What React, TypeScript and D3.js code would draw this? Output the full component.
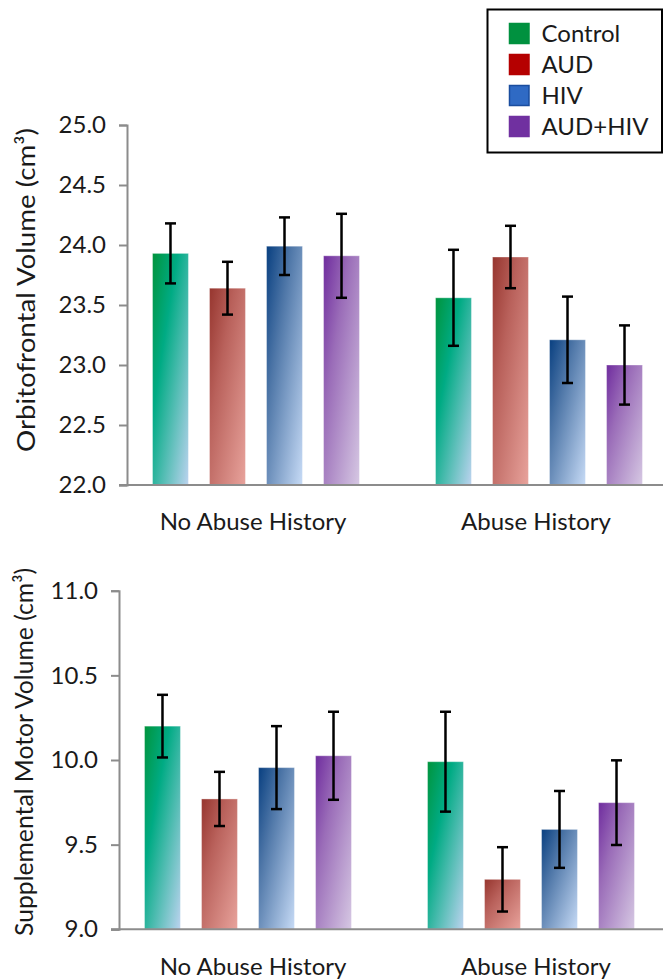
import { useEffect, useRef } from 'react';
import * as d3 from 'd3';

const groups = ['No Abuse History', 'Abuse History'];
const series = ['Control', 'AUD', 'HIV', 'AUD+HIV'];

// orbitofrontal volume, [group][series]
const ofcMeans = [
  [23.93, 23.64, 23.99, 23.91],
  [23.56, 23.9, 23.21, 23.0],
];
const ofcErrors = [
  [0.25, 0.22, 0.24, 0.35],
  [0.4, 0.26, 0.36, 0.33],
];
const ofcTicks = [22.0, 22.5, 23.0, 23.5, 24.0, 24.5, 25.0];

// supplemental motor volume, [group][series]
const smaMeans = [
  [10.2, 9.77, 9.955, 10.025],
  [9.99, 9.295, 9.59, 9.748],
];
const smaErrors = [
  [0.185, 0.16, 0.245, 0.26],
  [0.295, 0.19, 0.227, 0.25],
];
const smaTicks = [9.0, 9.5, 10.0, 10.5, 11.0];

const legendColors = ['#00913f', '#b50000', '#2f6ac4', '#7030a0'];
const legendStrokes = ['#00913f', '#b50000', '#1a4d9e', '#7030a0'];

// diagonal gradient stops per series
const gradientStops = [
  ['#00943c', '#00ab84', '#bcd3ef'],
  ['#96352e', '#b9615b', '#e8a39c'],
  ['#083f80', '#4f77a8', '#c7dbf6'],
  ['#6f2c9e', '#9a6cb8', '#d6c8e3'],
];

const FONT = 'Lato, "Open Sans", sans-serif';

const App = () => {
  const svgRef = useRef<SVGSVGElement>(null);

  useEffect(() => {
    if (!svgRef.current) return;
    const svg = d3.select(svgRef.current);
    svg.selectAll('*').remove();

    const defs = svg.append('defs');
    series.forEach((s, i) => {
      const grad = defs.append('linearGradient')
        .attr('id', `grad-${i}`)
        .attr('x1', 0).attr('y1', 0)
        .attr('x2', 1).attr('y2', 1);
      grad.selectAll('stop')
        .data(gradientStops[i])
        .enter()
        .append('stop')
        .attr('offset', (_, j) => `${[0, 0.35, 1][j] * 100}%`)
        .attr('stop-color', d => d);
    });

    const drawChart = (cfg) => {
      const { axisX, yTop, yBottom, means, errors, ticks, label, labelX, labelY, labelLen, catShift, catBaseline } = cfg;

      const y = d3.scaleLinear()
        .domain([ticks[0], ticks[ticks.length - 1]])
        .range([yBottom, yTop]);

      const x0 = d3.scaleBand()
        .domain(groups)
        .range([axisX - 12.5, axisX + 553.5]);

      const x1 = d3.scaleBand()
        .domain(series)
        .range([0, x0.bandwidth()])
        .paddingInner(0.37)
        .paddingOuter(0.667);

      const g = svg.append('g');

      // bars
      groups.forEach((grp, gi) => {
        series.forEach((s, si) => {
          const bx = x0(grp) + x1(s);
          const v = means[gi][si];
          g.append('rect')
            .attr('x', bx)
            .attr('y', y(v))
            .attr('width', x1.bandwidth())
            .attr('height', yBottom - y(v))
            .attr('fill', `url(#grad-${si})`)
            .attr('stroke', 'rgba(255,255,255,0.35)')
            .attr('stroke-width', 1);
        });
      });

      // error bars
      groups.forEach((grp, gi) => {
        series.forEach((s, si) => {
          const cx = x0(grp) + x1(s) + x1.bandwidth() / 2;
          const v = means[gi][si];
          const e = errors[gi][si];
          const eb = g.append('g')
            .attr('stroke', '#000')
            .attr('stroke-width', 2.5);
          eb.append('line')
            .attr('x1', cx).attr('x2', cx)
            .attr('y1', y(v + e)).attr('y2', y(v - e));
          [v + e, v - e].forEach(t => {
            eb.append('line')
              .attr('x1', cx - 5.5).attr('x2', cx + 5.5)
              .attr('y1', y(t)).attr('y2', y(t));
          });
        });
      });

      // y axis
      const yAxis = d3.axisLeft(y)
        .tickValues(ticks)
        .tickFormat(d3.format('.1f'))
        .tickSize(8)
        .tickPadding(13);

      const ya = g.append('g')
        .attr('transform', `translate(${axisX},0)`)
        .call(yAxis);
      ya.attr('font-family', null).attr('font-size', null);
      ya.select('.domain').attr('stroke', '#8c8c8c').attr('stroke-width', 2);
      ya.selectAll('.tick line').attr('stroke', '#8c8c8c').attr('stroke-width', 2);
      ya.selectAll('.tick text')
        .style('font-family', FONT)
        .style('font-size', '24px')
        .attr('fill', '#1a1a1a');

      // x axis line
      g.append('line')
        .attr('x1', axisX - 8)
        .attr('x2', 663)
        .attr('y1', yBottom)
        .attr('y2', yBottom)
        .attr('stroke', '#8c8c8c')
        .attr('stroke-width', 2);

      // category labels
      groups.forEach(grp => {
        g.append('text')
          .attr('x', x0(grp) + x0.bandwidth() / 2 + catShift)
          .attr('y', catBaseline)
          .attr('text-anchor', 'middle')
          .style('font-family', FONT)
          .style('font-size', '24px')
          .attr('fill', '#1a1a1a')
          .text(grp);
      });

      // y label
      g.append('text')
        .attr('transform', `translate(${labelX},${labelY}) rotate(-90)`)
        .attr('text-anchor', 'middle')
        .attr('dominant-baseline', 'central')
        .attr('textLength', labelLen)
        .attr('lengthAdjust', 'spacingAndGlyphs')
        .style('font-family', FONT)
        .style('font-size', '25px')
        .attr('fill', '#1a1a1a')
        .text(label);
    };

    drawChart({
      axisX: 127, yTop: 125, yBottom: 485,
      means: ofcMeans, errors: ofcErrors, ticks: ofcTicks,
      label: 'Orbitofrontal Volume (cm³)', labelX: 25, labelY: 290, labelLen: 324,
      catShift: -3, catBaseline: 530,
    });

    drawChart({
      axisX: 119, yTop: 590.7, yBottom: 929.3,
      means: smaMeans, errors: smaErrors, ticks: smaTicks,
      label: 'Supplemental Motor Volume (cm³)', labelX: 23, labelY: 752, labelLen: 368,
      catShift: 5, catBaseline: 975,
    });

    // legend
    const legend = svg.append('g');
    legend.append('rect')
      .attr('x', 487.5).attr('y', 9.5)
      .attr('width', 174.5).attr('height', 143)
      .attr('fill', '#fff')
      .attr('stroke', '#000')
      .attr('stroke-width', 2);

    const rowY = d3.scalePoint().domain(series).range([33.5, 126.5]);
    series.forEach((s, i) => {
      legend.append('rect')
        .attr('x', 509.5).attr('y', rowY(s) - 10)
        .attr('width', 19.5).attr('height', 20)
        .attr('fill', legendColors[i])
        .attr('stroke', legendStrokes[i])
        .attr('stroke-width', 1.5);
      legend.append('text')
        .attr('x', 541.5)
        .attr('y', rowY(s) + 8.5)
        .style('font-family', FONT)
        .style('font-size', '24px')
        .attr('fill', '#1a1a1a')
        .text(s);
    });
  }, []);

  return (
    <svg
      ref={svgRef}
      width={663}
      height={979}
      style={{ position: 'absolute', left: 0, top: 0, background: '#fff' }}
    />
  );
};

export default App;
